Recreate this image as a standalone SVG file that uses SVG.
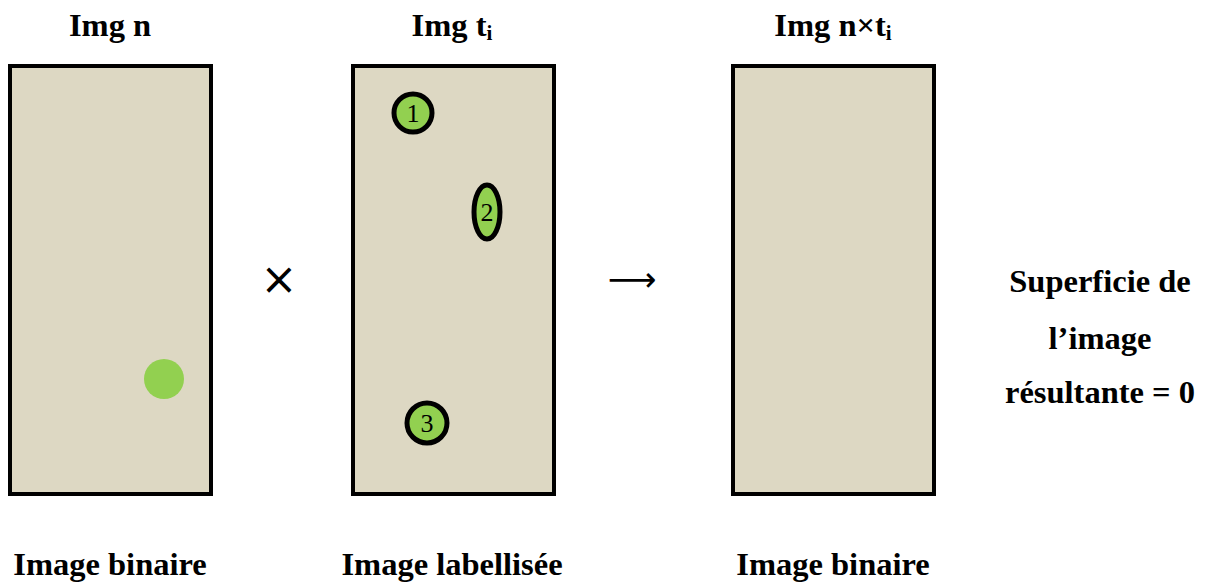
<svg xmlns="http://www.w3.org/2000/svg" width="1208" height="583" viewBox="0 0 1208 583">
<style>
.t{font-family:"Liberation Serif","Times New Roman",serif;font-weight:bold;font-size:32.5px;fill:#000;text-anchor:middle}
.box{fill:#DDD8C3;stroke:#000;stroke-width:4}
.lab{fill:#92D050;stroke:#000;stroke-width:5}
.n{font-family:"Liberation Serif","Times New Roman",serif;font-size:26px;fill:#000;text-anchor:middle}
.op{font-family:"DejaVu Sans",sans-serif;fill:#000;text-anchor:middle}
</style>
<rect width="1208" height="583" fill="#fff"/>
<g id="imgn">
<text class="t" x="110" y="36">Img n</text>
<rect class="box" x="10" y="66" width="201" height="428"/>
<circle cx="164" cy="379" r="20" fill="#92D050"/>
<text class="t" x="110" y="575">Image binaire</text>
</g>
<g id="imgt">
<text class="t" x="452" y="36">Img t<tspan font-size="21" dy="4">i</tspan></text>
<rect class="box" x="353" y="66" width="201" height="428"/>
<g id="l1"><circle class="lab" cx="413" cy="113" r="19"/><text class="n" x="413" y="122">1</text></g>
<g id="l2"><ellipse class="lab" cx="487" cy="212" rx="13" ry="27"/><text class="n" x="487" y="221">2</text></g>
<g id="l3"><circle class="lab" cx="427" cy="423" r="20"/><text class="n" x="427" y="432">3</text></g>
<text class="t" x="452" y="575">Image labellisée</text>
</g>
<g id="imgr">
<text class="t" x="833" y="36">Img n×t<tspan font-size="21" dy="4">i</tspan></text>
<rect class="box" x="733" y="66" width="201" height="428"/>
<text class="t" x="833" y="575">Image binaire</text>
</g>
<g id="connectors">
<text class="op" x="279" y="294" font-size="44">×</text>
<text class="op" x="632" y="291" font-size="34">⟶</text>
</g>
<g id="result">
<text class="t" x="1100" y="292">Superficie de</text>
<text class="t" x="1100" y="349">l’image</text>
<text class="t" x="1100" y="403">résultante = 0</text>
</g>
</svg>
